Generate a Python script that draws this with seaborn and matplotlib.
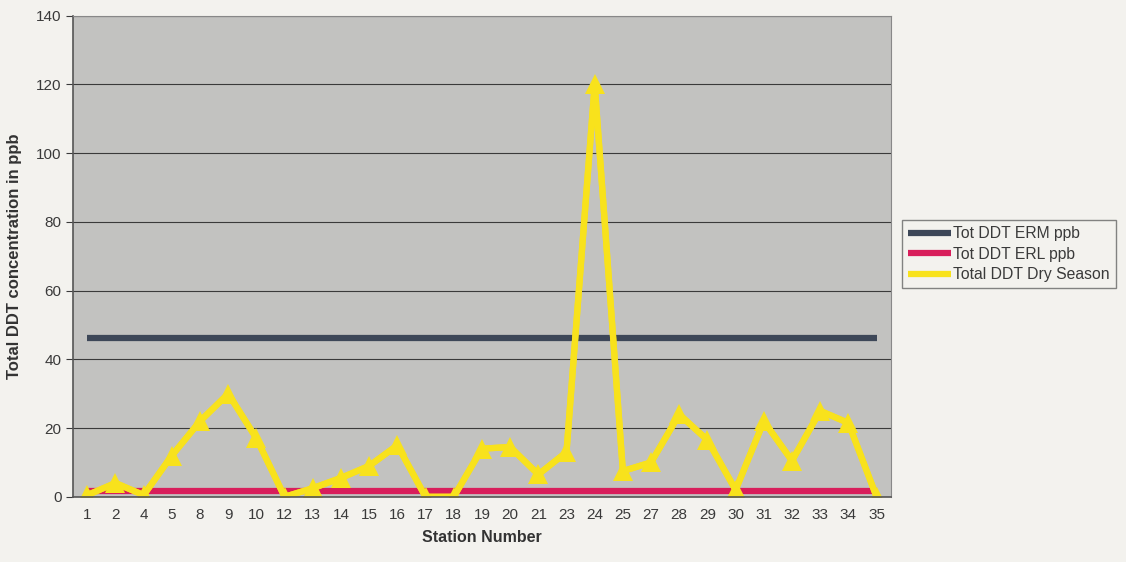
import numpy as np
import pandas as pd
import matplotlib
matplotlib.use("Agg")
import matplotlib.pyplot as plt
import seaborn as sns
from matplotlib.lines import Line2D

# ── Datos ───────────────────────────────────────────────
estaciones = ["1", "2", "4", "5", "8", "9", "10", "12", "13", "14", "15", "16",
              "17", "18", "19", "20", "21", "23", "24", "25", "27", "28", "29",
              "30", "31", "32", "33", "34", "35"]
ddt_seca = [0.5, 4, 0.5, 12, 22, 30, 17, 0, 2.5, 5.5, 9, 15,
            0, 0, 14, 14.5, 6.5, 13, 120, 7.5, 10, 24, 16.5,
            2, 22, 10.5, 25, 21.5, 0]
erm_ppb = 46.1
erl_ppb = 1.58

df = pd.DataFrame({
    "Station": estaciones * 3,
    "Valor": [erm_ppb] * len(estaciones) + [erl_ppb] * len(estaciones) + ddt_seca,
    "Serie": (["Tot DDT ERM ppb"] * len(estaciones)
              + ["Tot DDT ERL ppb"] * len(estaciones)
              + ["Total DDT Dry Season"] * len(estaciones)),
})

# ── Figura ──────────────────────────────────────────────
sns.set_style("white")
plt.rcParams["font.family"] = ["Liberation Sans", "DejaVu Sans"]

fig = plt.figure(figsize=(11.26, 5.62), dpi=100, facecolor="#f3f2ee")
ax = fig.add_axes([0.065, 0.116, 0.726, 0.856])
ax.set_facecolor("#c2c2c0")

colores = {"Tot DDT ERM ppb": "#3d4758",
           "Tot DDT ERL ppb": "#d81e5b",
           "Total DDT Dry Season": "#f8e21c"}
sns.lineplot(data=df, x="Station", y="Valor", hue="Serie", palette=colores,
             sort=False, linewidth=4.5, ax=ax, legend=False,
             solid_capstyle="butt")
sns.lineplot(data=df[df["Serie"] == "Total DDT Dry Season"], x="Station", y="Valor",
             color=colores["Total DDT Dry Season"], marker="^", markersize=15,
             markeredgewidth=0, linewidth=4.5, sort=False, ax=ax)

# ── Ejes ────────────────────────────────────────────────
ax.set_xlim(-0.5, len(estaciones) - 0.5)
ax.set_ylim(0, 140)
ax.set_yticks(np.arange(0, 141, 20))
ax.set_xticks(range(len(estaciones)))
ax.set_xticklabels(estaciones)
ax.set_xticks(np.arange(-0.5, len(estaciones), 1), minor=True)
ax.tick_params(axis="x", which="major", length=0, labelsize=11, colors="#3a3a3a", pad=8)
ax.tick_params(axis="x", which="minor", length=5, color="#555555")
ax.tick_params(axis="y", length=5, labelsize=11, colors="#3a3a3a", left=True)
ax.yaxis.grid(True, color="#3a3a3a", linewidth=0.8)
ax.set_axisbelow(True)
for lado in ["top", "right"]:
    ax.spines[lado].set_color("#888888")
for lado in ["left", "bottom"]:
    ax.spines[lado].set_color("#555555")
    ax.spines[lado].set_linewidth(1.2)

ax.set_xlabel("Station Number", fontsize=11.5, fontweight="bold", color="#333333", labelpad=6)
ax.set_ylabel("Total DDT concentration in ppb", fontsize=12, fontweight="bold",
              color="#333333", labelpad=10)

# ── Leyenda ─────────────────────────────────────────────
handles = [Line2D([0], [0], color=colores[k], linewidth=4.5, solid_capstyle="butt")
           for k in colores]
leg = fig.legend(handles, list(colores.keys()), loc="center left",
                 bbox_to_anchor=(0.801, 0.548), frameon=True, fancybox=False,
                 fontsize=11.3, handlelength=2.7, handletextpad=0.15,
                 borderpad=0.4, borderaxespad=0, labelspacing=0.35,
                 edgecolor="#666666")
leg.get_frame().set_facecolor("#f3f2ee")
for t in leg.get_texts():
    t.set_color("#3a3a3a")

plt.savefig("out.png", dpi=100, facecolor=fig.get_facecolor())
